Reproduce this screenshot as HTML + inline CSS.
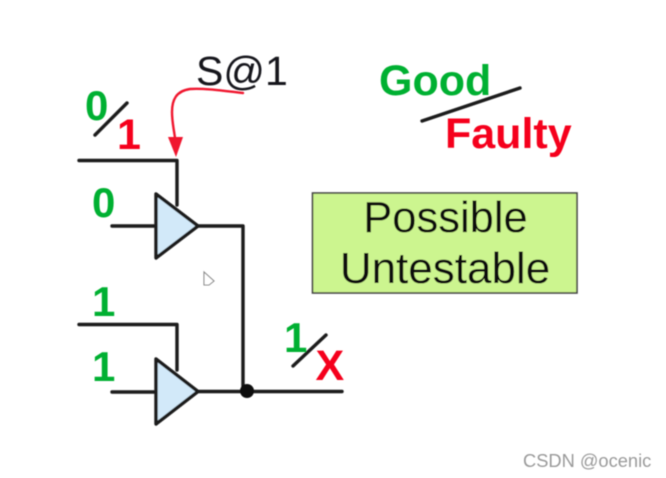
<!DOCTYPE html>
<html>
<head>
<meta charset="utf-8">
<style>
html,body{margin:0;padding:0;background:#fff;width:666px;height:478px;overflow:hidden}
svg{display:block;font-family:"Liberation Sans",sans-serif}
</style>
</head>
<body>
<svg width="666" height="478" viewBox="0 0 666 478" xmlns="http://www.w3.org/2000/svg">
<defs><filter id="b" x="-5%" y="-5%" width="110%" height="110%"><feGaussianBlur stdDeviation="0.6"/></filter></defs>
<rect width="666" height="478" fill="#fff"/>
<g filter="url(#b)">
  <!-- wires -->
  <g fill="none" stroke="#1c1c1c" stroke-width="3.4" stroke-linecap="round" stroke-linejoin="round">
    <path d="M79 160.5H177V205"/>
    <path d="M112 226H156"/>
    <path d="M198 226H243V391"/>
    <path d="M79 324.5H177V370"/>
    <path d="M112 392H156"/>
    <path d="M198 391.5H342"/>
    <path d="M95 135L127 103"/>
    <path d="M293 366L326 335"/>
    <path d="M422 121L520 88"/>
  </g>
  <!-- gates -->
  <g fill="#d2e9f9" stroke="#1c1c1c" stroke-width="3.4" stroke-linejoin="round">
    <path d="M156 194L198 226L156 258Z"/>
    <path d="M156 359L198 391.5L156 424Z"/>
  </g>
  <circle cx="247" cy="391" r="7" fill="#111"/>
  <!-- S@1 arrow -->
  <path d="M243 93C225 91 205 88 190 89C176 91 172 100 172 112C172 122 174 130 175 138" fill="none" stroke="#f0142d" stroke-width="2.4" stroke-linecap="round"/>
  <path d="M168 137L183 137L176 157Z" fill="#f0142d"/>
  <!-- labels -->
  <text x="196" y="85" font-size="41" fill="#14141c">S@1</text>
  <g font-weight="bold" font-size="42" fill="#00b030">
    <text x="85" y="120">0</text>
    <text x="92" y="217">0</text>
    <text x="92" y="316">1</text>
    <text x="92" y="381">1</text>
    <text x="284" y="352">1</text>
    <text x="379" y="95" font-size="43">Good</text>
  </g>
  <g font-weight="bold" font-size="43" fill="#f5001e">
    <text x="117" y="149">1</text>
    <text x="315.5" y="380">X</text>
    <text x="445" y="148">Faulty</text>
  </g>
  <!-- box -->
  <rect x="312.5" y="193" width="264.5" height="100" fill="#ccf58f" stroke="#444" stroke-width="1.6"/>
  <text x="445.5" y="232" font-size="43.5" fill="#0c0c0c" text-anchor="middle">Possible</text>
  <text x="445" y="283" font-size="44" fill="#0c0c0c" text-anchor="middle">Untestable</text>
  <!-- cursor -->
  <path d="M204 272V285H209L214 281Z" fill="#fff" stroke="#888" stroke-width="1.1"/>
  <!-- watermark -->
  <text x="523" y="467" font-size="18.3" fill="#9a9a9a">CSDN @ocenic</text>
</g>
</svg>
</body>
</html>
